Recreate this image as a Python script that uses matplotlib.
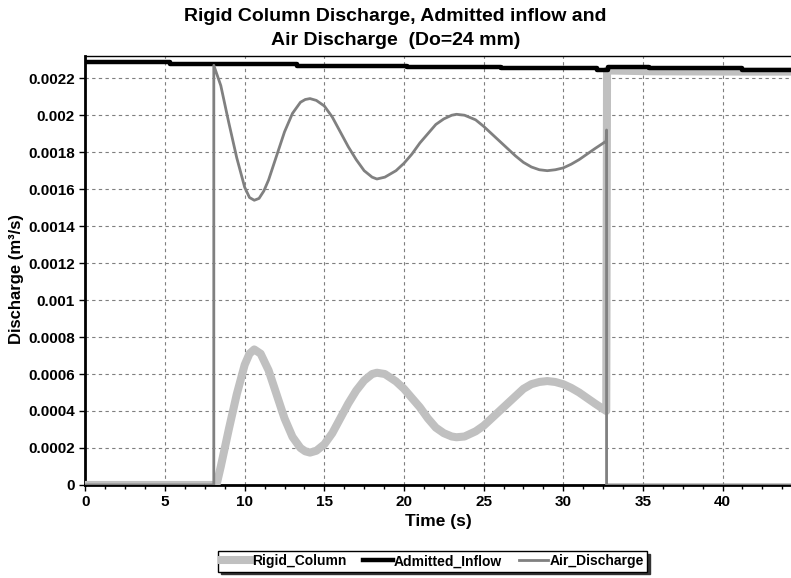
import matplotlib
matplotlib.use("Agg")
import matplotlib.pyplot as plt
from matplotlib.ticker import MultipleLocator
import numpy as np

plt.rcParams['font.family'] = ['Liberation Sans', 'DejaVu Sans']
plt.rcParams['font.weight'] = 'bold'

# ---- data (discharge in m^3/s) ----
# Admitted inflow: step series (time of step, value)
inflow_t = [0, 5.3, 13.27, 20.2, 26.1, 32.1, 32.8, 35.4, 41.25, 44.3]
inflow_q = [0.002286, 0.002277, 0.002268, 0.002262, 0.002255, 0.002245,
            0.002262, 0.002256, 0.002245, 0.002245]

# Rigid column discharge
rigid_t = [0, 8.23, 8.5, 9.0, 9.5, 10.0, 10.3, 10.6, 11.0, 11.5, 12.0, 12.5,
           13.0, 13.5, 13.8, 14.1, 14.5, 15.0, 15.5, 16.0, 16.5, 17.0, 17.5,
           18.0, 18.3, 18.8, 19.5, 20.0, 20.5, 21.0, 21.5, 22.0, 22.5, 23.0,
           23.3, 23.8, 24.5, 25.0, 25.5, 26.0, 26.5, 27.0, 27.5, 28.0, 28.5,
           29.0, 29.5, 30.0, 30.5, 31.0, 31.5, 32.0, 32.7, 32.75, 35.4,
           41.25, 44.3]
rigid_q = [0, 0, 0.00010, 0.00030, 0.00049, 0.00065, 0.00071, 0.000733,
           0.00071, 0.00062, 0.00049, 0.00036, 0.00026, 0.00020, 0.000182,
           0.000175, 0.000185, 0.00022, 0.00028, 0.00036, 0.00044, 0.00051,
           0.000565, 0.00060, 0.000607, 0.00060, 0.00056, 0.00052, 0.00047,
           0.00042, 0.00036, 0.00031, 0.00028, 0.000262, 0.000258, 0.000262,
           0.00029, 0.00032, 0.00036, 0.00040, 0.00044, 0.00048, 0.00052,
           0.000545, 0.000557, 0.000562, 0.000557, 0.000545, 0.000525,
           0.00050, 0.00047, 0.00044, 0.00040, 0.002242, 0.002238,
           0.002236, 0.002236]

# Air discharge
air_t = [0, 8.06, 8.06, 8.5, 9.0, 9.5, 10.0, 10.3, 10.6, 10.9, 11.2, 11.5,
         12.0, 12.5, 13.0, 13.5, 13.8, 14.1, 14.5, 15.0, 15.5, 16.0, 16.5,
         17.0, 17.5, 18.0, 18.3, 18.8, 19.5, 20.0, 20.5, 21.0, 21.5, 22.0,
         22.5, 23.0, 23.3, 23.8, 24.5, 25.0, 25.5, 26.0, 26.5, 27.0, 27.5,
         28.0, 28.5, 29.0, 29.5, 30.0, 30.5, 31.0, 31.5, 32.0, 32.7, 32.72,
         32.72, 44.3]
air_q = [0, 0, 0.00227, 0.00216, 0.00196, 0.00177, 0.00161, 0.001555,
         0.00154, 0.00155, 0.00159, 0.00165, 0.00178, 0.00191, 0.00201,
         0.00207, 0.002085, 0.00209, 0.00208, 0.00205, 0.00199, 0.00191,
         0.00183, 0.00176, 0.00170, 0.001665, 0.001655, 0.001665, 0.00170,
         0.00174, 0.00179, 0.00185, 0.00190, 0.00195, 0.00198, 0.00200,
         0.002005, 0.00200, 0.001975, 0.00194, 0.00190, 0.00186, 0.00182,
         0.00178, 0.001745, 0.00172, 0.001705, 0.00170, 0.001705, 0.001715,
         0.001735, 0.00176, 0.00179, 0.00182, 0.00186, 0.00192, 0, 0]

x_ticks = [0, 5, 10, 15, 20, 25, 30, 35, 40]
y_ticks = [0, 0.0002, 0.0004, 0.0006, 0.0008, 0.001, 0.0012, 0.0014,
           0.0016, 0.0018, 0.002, 0.0022]
y_labels = ['0', '0.0002', '0.0004', '0.0006', '0.0008', '0.001', '0.0012',
            '0.0014', '0.0016', '0.0018', '0.002', '0.0022']

fig = plt.figure(figsize=(7.91, 5.78), dpi=100)
ax = fig.add_axes([0.108, 0.161, 0.892, 0.742])

ax.plot(rigid_t, rigid_q, color='#c0c0c0', lw=5.8, label='Rigid_Column',
        solid_joinstyle='round', zorder=3)
ax.plot(inflow_t, inflow_q, color='black', lw=3.2, drawstyle='steps-post',
        label='Admitted_Inflow', zorder=4)
ax.plot(air_t, air_q, color='#808080', lw=2.0, label='Air_Discharge',
        solid_joinstyle='round', zorder=5)

ax.set_xlim(0, 44.3)
ax.set_ylim(0, 0.00232)
ax.set_xticks(x_ticks)
ax.xaxis.set_minor_locator(MultipleLocator(1.25))
ax.set_yticks(y_ticks)
ax.set_yticklabels(y_labels)
ax.tick_params(axis='both', labelsize=11, direction='out', length=4, width=1)
ax.tick_params(axis='x', which='minor', length=3, width=1)
for lab in ax.get_xticklabels() + ax.get_yticklabels():
    lab.set_fontweight('bold')

ax.grid(True, which='major', color='#7f7f7f', linestyle=(0, (3, 3)), lw=0.8)

ax.spines['left'].set_linewidth(2.0)
ax.spines['bottom'].set_linewidth(2.0)
ax.spines['top'].set_linewidth(1.0)
ax.spines['right'].set_visible(False)

ax.set_xlabel('Time (s)', fontsize=12.5, fontweight='bold', labelpad=3)
ax.set_ylabel('Discharge (m³/s)', fontsize=12, fontweight='bold')
ax.yaxis.set_label_coords(-0.087, 0.48)

fig.text(0.5, 0.972, 'Rigid Column Discharge, Admitted inflow and',
         ha='center', va='center', fontsize=14, fontweight='bold')
fig.text(0.5, 0.930, 'Air Discharge  (Do=24 mm)',
         ha='center', va='center', fontsize=14, fontweight='bold')

leg = fig.legend(loc='center', bbox_to_anchor=(0.547, 0.029), ncol=3,
                 fontsize=10, frameon=True, fancybox=False, edgecolor='black',
                 handlelength=2.1, handletextpad=0.1, columnspacing=1.2,
                 borderpad=0.25, shadow={'color': '#333333', 'alpha': 1})
leg.get_frame().set_linewidth(1.0)
for t in leg.get_texts():
    t.set_fontweight('bold')

fig.savefig('out.png', dpi=100)
